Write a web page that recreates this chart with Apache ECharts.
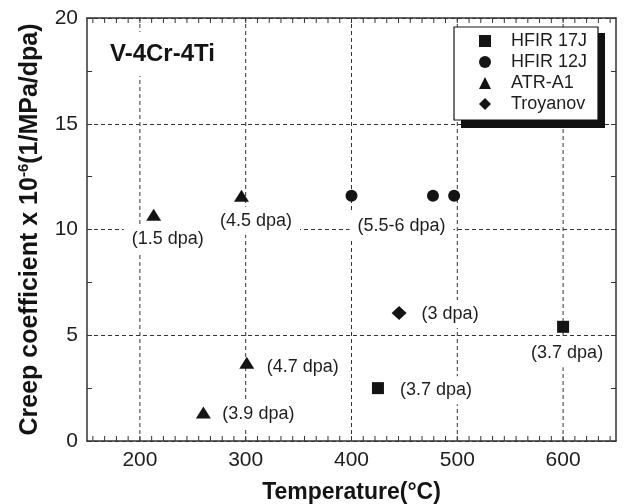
<!DOCTYPE html>
<html><head><meta charset="utf-8">
<script src="https://cdn.jsdelivr.net/npm/echarts@6/dist/echarts.min.js"></script>
<style>html,body{margin:0;padding:0;background:#fff}#chart{width:626px;height:504px}</style>
</head><body><div id="chart"></div>
<script>
// ---- data ----
const hfir17jTemp = [425, 600];
const hfir17jCoef = [2.5, 5.4];
const hfir17jDose = ['(3.7 dpa)', '(3.7 dpa)'];

const hfir12jTemp = [400, 477, 497];
const hfir12jCoef = [11.6, 11.6, 11.6];
const hfir12jDose = ['(5.5-6 dpa)', '', ''];

const atrTemp = [213, 296, 301, 260];
const atrCoef = [10.7, 11.6, 3.7, 1.35];
const atrDose = ['(1.5 dpa)', '(4.5 dpa)', '(4.7 dpa)', '(3.9 dpa)'];

const troyTemp = [445];
const troyCoef = [6.05];
const troyDose = ['(3 dpa)'];

const seriesNames = ['HFIR 17J', 'HFIR 12J', 'ATR-A1', 'Troyanov'];
const xMajorTicks = [200, 300, 400, 500, 600];
const yMajorTicks = [0, 5, 10, 15, 20];

// ---- layout / style (kept apart from data) ----
const FONT = '"Liberation Sans", Arial, Helvetica, sans-serif';
const INK = '#141414';
const labelOffsets = {
  'HFIR 17J': [[58, 2], [4, 26.5]],
  'HFIR 12J': [[50, 30], null, null],
  'ATR-A1': [[14, 24], [14.5, 25], [56, 4.6], [55, 1.6]],
  'Troyanov': [[51, 1]]
};
const legendBox = { left: 454, top: 27, width: 144, height: 95, shadowDx: 7, shadowDy: 6 };

function buildData(name, xs, ys, texts) {
  return xs.map((x, i) => {
    const item = { value: [x, ys[i]] };
    const off = labelOffsets[name][i];
    item.label = (off && texts[i]) ? { show: true, formatter: texts[i] } : { show: false };
    return item;
  });
}

function labelStyle() {
  return {
    show: false, position: 'inside', align: 'center', verticalAlign: 'middle',
    fontSize: 18, color: '#1e1e1e', fontFamily: FONT,
    backgroundColor: '#fff', padding: [5, 8]
  };
}

function layoutFor(name) {
  return function (params) {
    const off = labelOffsets[name][params.dataIndex] || [0, 0];
    return { dx: off[0], dy: off[1], hideOverlap: false };
  };
}

// x tick positions: minor ticks every 1/9 of the 100-degree major step
const xStep = 100 / 9;
const xTickValues = [];
for (let k = -4; k <= 40; k++) {
  const v = xMajorTicks[0] + k * xStep;
  if (v > 150 && v < 650) xTickValues.push(v);
}
const isMajorX = v => xMajorTicks.some(m => Math.abs(m - v) < 1e-6);

const chart = echarts.init(document.getElementById('chart'), null, { renderer: 'canvas' });

function scatter(name, symbol, size, xs, ys, texts) {
  return {
    type: 'scatter', z: 3, name: name, symbol: symbol, symbolSize: size,
    symbolKeepAspect: true,
    itemStyle: { color: INK, opacity: 1 },
    emphasis: { disabled: true },
    label: labelStyle(),
    labelLayout: layoutFor(name),
    data: buildData(name, xs, ys, texts)
  };
}

chart.setOption({
  animation: false,
  backgroundColor: '#fff',
  textStyle: { fontFamily: FONT },
  title: {
    text: 'V-4Cr-4Ti', left: 100, top: 32, padding: [10, 10],
    backgroundColor: '#fff',
    textStyle: { fontSize: 24, fontWeight: 'bold', color: INK, fontFamily: FONT }
  },
  graphic: [{
    type: 'rect', z: 3, silent: true,
    shape: { x: legendBox.left + legendBox.shadowDx, y: legendBox.top + legendBox.shadowDy,
             width: legendBox.width, height: legendBox.height },
    style: { fill: '#111' }
  }],
  legend: {
    data: seriesNames, orient: 'vertical', left: legendBox.left, top: legendBox.top, z: 5,
    itemWidth: 12, itemHeight: 12, itemGap: 3,
    padding: [5, 9, 7, 25], align: 'left',
    backgroundColor: '#fff', borderColor: INK, borderWidth: 1.2,
    selectedMode: false,
    formatter: n => '{g|}{t|' + n + '}',
    textStyle: {
      fontSize: 18, color: '#1e1e1e', fontFamily: FONT,
      rich: {
        g: { width: 15, lineHeight: 18 },
        t: { width: 78, fontSize: 18, lineHeight: 18, color: '#1e1e1e', fontFamily: FONT }
      }
    }
  },
  grid: { left: 87, right: 10, top: 18, bottom: 63, show: false, outerBoundsMode: 'none', containLabel: false },
  xAxis: [{
    type: 'value', min: 150, max: 650, interval: 50, position: 'bottom',
    axisLine: { show: true, onZero: false, lineStyle: { color: '#333', width: 1.5 } },
    axisTick: { show: false }, splitLine: { show: false },
    axisLabel: {
      fontSize: 21, color: '#1e1e1e', margin: 9, fontFamily: FONT,
      formatter: v => (xMajorTicks.indexOf(v) >= 0 ? String(v) : '')
    },
    name: 'Temperature(°C)', nameLocation: 'middle', nameGap: 40,
    nameTextStyle: { fontSize: 23, fontWeight: 'bold', color: INK, fontFamily: FONT }
  }, {
    type: 'value', min: 150, max: 650, interval: 50, position: 'top',
    axisLine: { show: true, onZero: false, lineStyle: { color: '#333', width: 1.5 } },
    axisTick: { show: false }, splitLine: { show: false }, axisLabel: { show: false }
  }],
  yAxis: [{
    type: 'value', min: yMajorTicks[0], max: yMajorTicks[yMajorTicks.length - 1], interval: 5,
    position: 'left',
    axisLine: { show: true, onZero: false, lineStyle: { color: '#333', width: 1.5 } },
    axisTick: { show: true, inside: true, length: 5, lineStyle: { color: '#333', width: 1 } },
    minorTick: { show: true, splitNumber: 2, length: 5, lineStyle: { color: '#333', width: 1 } },
    splitLine: { show: true, lineStyle: { color: '#333', width: 1, type: [4, 3] } },
    axisLabel: { fontSize: 21, color: '#1e1e1e', margin: 9, fontFamily: FONT },
    name: '{b|Creep coefficient x 10}{s|-6}{b|(1/MPa/dpa)}',
    nameLocation: 'middle', nameRotate: 90, nameGap: 42,
    nameTextStyle: {
      rich: {
        b: { fontSize: 25, fontWeight: 'bold', color: INK, fontFamily: FONT, lineHeight: 29 },
        s: { fontSize: 15, fontWeight: 'bold', color: INK, fontFamily: FONT, verticalAlign: 'top', lineHeight: 29 }
      }
    }
  }, {
    type: 'value', min: yMajorTicks[0], max: yMajorTicks[yMajorTicks.length - 1], interval: 5,
    position: 'right',
    axisLine: { show: true, onZero: false, lineStyle: { color: '#333', width: 1.5 } },
    axisTick: { show: true, inside: true, length: 5, lineStyle: { color: '#333', width: 1 } },
    minorTick: { show: true, splitNumber: 2, length: 5, lineStyle: { color: '#333', width: 1 } },
    splitLine: { show: false }, axisLabel: { show: false }
  }],
  series: [
    {
      name: 'xTicks', type: 'custom', silent: true, z: 1, clip: false,
      data: xTickValues.map(v => [v, 0]),
      renderItem: function (params, api) {
        const v = api.value(0);
        const b = api.coord([v, yMajorTicks[0]]);
        const t = api.coord([v, yMajorTicks[yMajorTicks.length - 1]]);
        const children = [
          { type: 'line', shape: { x1: b[0], y1: b[1], x2: b[0], y2: b[1] - 5 }, style: { stroke: '#333', lineWidth: 1 } },
          { type: 'line', shape: { x1: t[0], y1: t[1], x2: t[0], y2: t[1] + 5 }, style: { stroke: '#333', lineWidth: 1 } }
        ];
        if (isMajorX(v)) {
          children.push({ type: 'line', shape: { x1: b[0], y1: b[1], x2: t[0], y2: t[1] },
            style: { stroke: '#333', lineWidth: 1, lineDash: [4, 3] } });
        }
        return { type: 'group', children: children };
      }
    },
    scatter('HFIR 17J', 'rect', 12, hfir17jTemp, hfir17jCoef, hfir17jDose),
    scatter('HFIR 12J', 'circle', 12, hfir12jTemp, hfir12jCoef, hfir12jDose),
    scatter('ATR-A1', 'triangle', [15, 12], atrTemp, atrCoef, atrDose),
    scatter('Troyanov', 'diamond', [15, 14], troyTemp, troyCoef, troyDose)
  ]
});
</script>
</body></html>
